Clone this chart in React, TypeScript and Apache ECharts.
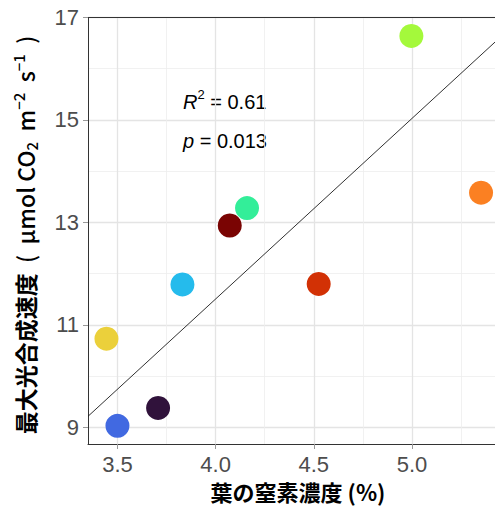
import React, { useEffect, useRef } from 'react';
import * as echarts from 'echarts';

const nitrogen = [3.444, 3.5, 3.707, 3.831, 4.16, 4.072, 4.525, 4.997, 5.352];
const photosynthesis = [10.73, 9.03, 9.38, 11.79, 13.28, 12.94, 11.8, 16.64, 13.58];
const pointColors = ['#EBD03B', '#4169E1', '#30123B', '#25BBEC', '#33EE99', '#7A0403', '#D23105', '#A4F93B', '#FB8022'];
const fitX = [3.35, 5.423];
const fitY = [9.215, 16.52];
const xMajorTicks = [3.5, 4.0, 4.5, 5.0];
const xMinorTicks = [3.75, 4.25, 4.75, 5.25];
const yMajorTicks = [9, 11, 13, 15, 17];
const yMinorTicks = [10, 12, 14, 16];
const xRange = [3.35, 5.423];
const yRange = [8.675, 17];
const r2Value = '0.61';
const pValue = '0.013';

const CJK = '"Noto Sans CJK JP", "Noto Sans", sans-serif';
const LATIN = '"Liberation Sans", Arial, sans-serif';

export default function App() {
  const ref = useRef<HTMLDivElement>(null);
  useEffect(() => {
    document.body.style.margin = '0';
    if (!ref.current) return;
    const chart = echarts.init(ref.current, undefined, { renderer: 'svg' });
    const axisLineStyle = { color: '#333333', width: 1 };
    const tickLabel = { fontSize: 22, color: '#4D4D4D', fontFamily: LATIN, lineHeight: 22 };
    const majorGrid = { color: '#E4E4E4', width: 1.3 };
    const minorGrid = { color: '#EEEEEE', width: 0.8 };
    const option: any = {
      animation: false,
      backgroundColor: '#FFFFFF',
      grid: { left: 88, right: 0, top: 17.5, bottom: 62, containLabel: false },
      xAxis: [
        {
          type: 'value', min: xRange[0], max: xRange[1], position: 'bottom',
          axisLine: { show: true, onZero: false, lineStyle: axisLineStyle },
          axisTick: { show: true, length: 5, customValues: xMajorTicks, lineStyle: { color: '#999999' } },
          axisLabel: { ...tickLabel, customValues: xMajorTicks, margin: 9, formatter: (v: number) => v.toFixed(1) },
          splitLine: { show: true, lineStyle: majorGrid },
        },
        {
          type: 'value', min: xRange[0], max: xRange[1], position: 'top',
          axisLine: { show: true, onZero: false, lineStyle: axisLineStyle },
          axisTick: { show: false, customValues: xMinorTicks },
          axisLabel: { show: false, customValues: xMinorTicks },
          splitLine: { show: true, lineStyle: minorGrid },
        },
      ],
      yAxis: [
        {
          type: 'value', min: yRange[0], max: yRange[1], position: 'left',
          axisLine: { show: true, onZero: false, lineStyle: axisLineStyle },
          axisTick: { show: true, length: 5, customValues: yMajorTicks, lineStyle: { color: '#999999' } },
          axisLabel: { ...tickLabel, customValues: yMajorTicks, margin: 9, formatter: (v: number) => String(Math.round(v)) },
          splitLine: { show: true, lineStyle: majorGrid },
        },
        {
          type: 'value', min: yRange[0], max: yRange[1], position: 'right',
          axisLine: { show: false },
          axisTick: { show: false, customValues: yMinorTicks },
          axisLabel: { show: false, customValues: yMinorTicks },
          splitLine: { show: true, lineStyle: minorGrid },
        },
      ],
      series: [
        {
          type: 'line',
          xAxisIndex: 0, yAxisIndex: 0,
          data: fitX.map((x, i) => [x, fitY[i]]),
          showSymbol: false,
          symbol: 'none',
          lineStyle: { color: '#1A1A1A', width: 0.9 },
          z: 2,
        },
        {
          type: 'scatter',
          xAxisIndex: 0, yAxisIndex: 0,
          symbolSize: 24,
          data: nitrogen.map((x, i) => ({ value: [x, photosynthesis[i]], itemStyle: { color: pointColors[i], opacity: 1 } })),
          itemStyle: { opacity: 1 },
          z: 3,
        },
      ],
      graphic: [
        {
          type: 'text', x: 183, y: 102,
          style: {
            text: '{i|R}{sup|2}{n| = ' + r2Value + '}',
            verticalAlign: 'middle', align: 'left',
            rich: {
              i: { fontSize: 20, fontStyle: 'italic', fontFamily: LATIN, fill: '#000', lineHeight: 28, verticalAlign: 'middle' },
              sup: { fontSize: 13, fontFamily: LATIN, fill: '#000', lineHeight: 13, verticalAlign: 'top' },
              n: { fontSize: 20, fontFamily: LATIN, fill: '#000', lineHeight: 28, verticalAlign: 'middle' },
            },
          },
        },
        {
          type: 'text', x: 183, y: 141,
          style: {
            text: '{i|p}{n| = ' + pValue + '}',
            verticalAlign: 'middle', align: 'left',
            rich: {
              i: { fontSize: 20, fontStyle: 'italic', fontFamily: LATIN, fill: '#000', lineHeight: 26 },
              n: { fontSize: 20, fontFamily: LATIN, fill: '#000', lineHeight: 26 },
            },
          },
        },
        {
          type: 'text', x: 298, y: 491,
          style: {
            text: '葉の窒素濃度 (%)',
            align: 'center', verticalAlign: 'middle', lineHeight: 20,
            fontSize: 22, fontWeight: 'bold', fontFamily: CJK, fill: '#000',
          },
        },
        {
          type: 'text', x: 25, y: 235, rotation: Math.PI / 2,
          style: {
            text: '{c|最大光合成速度}{l|  (  μmol CO}{sub|2}{l|  m}{sup|−2}{l|  s}{sup|−1}{l|  )}',
            align: 'center', verticalAlign: 'middle',
            rich: {
              c: { fontSize: 23, fontWeight: 'bold', fontFamily: CJK, fill: '#000', lineHeight: 28, verticalAlign: 'middle' },
              l: { fontSize: 23, fontWeight: 500, fontFamily: CJK, fill: '#000', lineHeight: 28, verticalAlign: 'middle' },
              sub: { fontSize: 15, fontWeight: 500, fontFamily: CJK, fill: '#000', lineHeight: 14, verticalAlign: 'bottom' },
              sup: { fontSize: 15, fontWeight: 500, fontFamily: CJK, fill: '#000', lineHeight: 14, verticalAlign: 'top' },
            },
          },
        },
      ],
    };
    chart.setOption(option);
    return () => chart.dispose();
  }, []);
  return <div ref={ref} style={{ width: 495, height: 506 }} />;
}
